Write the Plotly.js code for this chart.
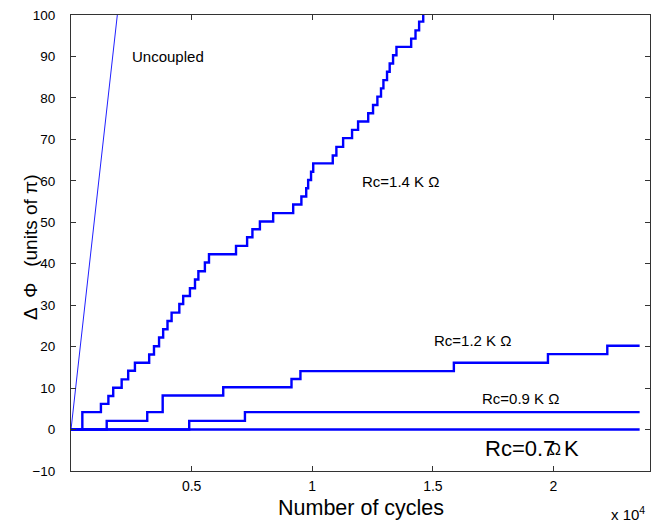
<!DOCTYPE html>
<html>
<head>
<meta charset="utf-8">
<script src="https://cdn.plot.ly/plotly-3.0.1.min.js"></script>
<style>html,body{margin:0;padding:0;background:#fff;}#chart{width:662px;height:524px;}</style>
</head>
<body>
<div id="chart"></div>
<script>
// x in units of 10^4 cycles, y in units of pi
const uncoupledX = [0, 0.192];
const uncoupledY = [0, 100];

const rc14X = [0, 0.047, 0.124, 0.155, 0.175, 0.21, 0.237, 0.265, 0.324, 0.344, 0.365, 0.382, 0.40, 0.417, 0.449, 0.465, 0.493, 0.514, 0.528, 0.555, 0.572, 0.684, 0.73, 0.752, 0.783, 0.838, 0.921, 0.955, 0.975, 0.983, 0.995, 1.004, 1.085, 1.10, 1.128, 1.165, 1.19, 1.232, 1.252, 1.27, 1.285, 1.295, 1.31, 1.321, 1.335, 1.349, 1.41, 1.428, 1.443, 1.46, 1.5];
const rc14Y = [0, 4.2, 6.2, 8.1, 10.1, 12.1, 14.2, 16.1, 18.1, 20.1, 22.2, 24.2, 26.2, 28.2, 30.3, 32.2, 34.1, 36.2, 38.2, 40.3, 42.3, 44.3, 46.4, 48.3, 50.2, 52.2, 54.3, 56.2, 58.2, 60.2, 62.2, 64.2, 66.1, 68.2, 70.3, 72.3, 74.3, 76.3, 78.3, 80.3, 82.3, 84.3, 86.3, 88.3, 90.3, 92.3, 94.3, 96.3, 98.4, 100.4, 102];

const rc12X = [0, 0.148, 0.316, 0.38, 0.631, 0.914, 0.951, 1.587, 1.977, 2.223, 2.357];
const rc12Y = [0, 2.1, 4.2, 8.2, 10.2, 12.2, 14.1, 16.1, 18.2, 20.2, 20.2];

const rc09X = [0, 0.49, 0.721, 2.357];
const rc09Y = [0, 2.1, 4.2, 4.2];

const rc07X = [0, 2.357];
const rc07Y = [0, 0];

const xTickVals = [0.5, 1, 1.5, 2];
const xTickText = ['0.5', '1', '1.5', '2'];
const yTickVals = [-10, 0, 10, 20, 30, 40, 50, 60, 70, 80, 90, 100];

const blue = '#0000ff';
const FONT = '"Liberation Sans", Arial, Helvetica, sans-serif';

const step = (x, y) => ({x: x, y: y, mode: 'lines', type: 'scatter', line: {color: blue, width: 2.4, shape: 'hv'}, hoverinfo: 'skip'});

const traces = [
  {x: uncoupledX, y: uncoupledY, mode: 'lines', type: 'scatter', line: {color: '#2020ff', width: 1}, hoverinfo: 'skip'},
  step(rc07X, rc07Y),
  step(rc09X, rc09Y),
  step(rc12X, rc12Y),
  step(rc14X, rc14Y)
];

const ann = (text, x, y, size, extra) => Object.assign({
  text: text, x: x, y: y, xref: 'x', yref: 'y', showarrow: false,
  font: {family: FONT, size: size, color: '#000'}, xanchor: 'center', yanchor: 'middle'
}, extra || {});

const layout = {
  width: 662, height: 524,
  margin: {l: 71, r: 12, t: 15, b: 53},
  paper_bgcolor: '#fff', plot_bgcolor: '#fff',
  showlegend: false,
  font: {family: FONT, size: 14, color: '#000'},
  xaxis: {
    range: [0, 2.4], tickvals: xTickVals, ticktext: xTickText,
    ticks: 'inside', ticklen: 5, tickcolor: '#333', showgrid: false, zeroline: false,
    showline: true, linecolor: '#333', linewidth: 1, mirror: 'ticks',
    ticklabelstandoff: 2,
    tickfont: {family: FONT, size: 14, color: '#000'}
  },
  yaxis: {
    range: [-10, 100], tickvals: yTickVals,
    ticks: 'inside', ticklen: 5, tickcolor: '#333', showgrid: false, zeroline: false,
    showline: true, linecolor: '#333', linewidth: 1, mirror: 'ticks',
    ticklabelstandoff: 12,
    tickfont: {family: FONT, size: 13.5, color: '#000'}
  },
  annotations: [
    ann('Uncoupled', 0.402, 89.9, 15),
    ann('Rc=1.4 K \u03A9', 1.367, 59.8, 15),
    ann('Rc=1.2 K \u03A9', 1.665, 21.6, 15),
    ann('Rc=0.9 K \u03A9', 1.867, 7.6, 15),
    ann('Rc=0.7', 1.707, -4.5, 22, {xanchor: 'left'}),
    ann('\u03A9', 2.008, -4.7, 16),
    ann('K', 2.034, -4.5, 22, {xanchor: 'left'}),
    {text: 'Number of cycles', xref: 'paper', yref: 'paper', x: 0.501, y: -0.081, showarrow: false,
     font: {family: FONT, size: 21.5, color: '#000'}, xanchor: 'center', yanchor: 'middle'},
    {text: '\u0394  \u03A6   (units of \u03C0)', xref: 'paper', yref: 'paper', x: -0.071, y: 0.491, showarrow: false,
     textangle: -90, font: {family: FONT, size: 19, color: '#000'}, xanchor: 'center', yanchor: 'middle'},
    {text: 'x 10<sup>4</sup>', xref: 'paper', yref: 'paper', x: 0.962, y: -0.094, showarrow: false,
     font: {family: FONT, size: 15, color: '#000'}, xanchor: 'center', yanchor: 'middle'}
  ]
};

Plotly.newPlot('chart', traces, layout, {staticPlot: true, displayModeBar: false});
</script>
</body>
</html>
